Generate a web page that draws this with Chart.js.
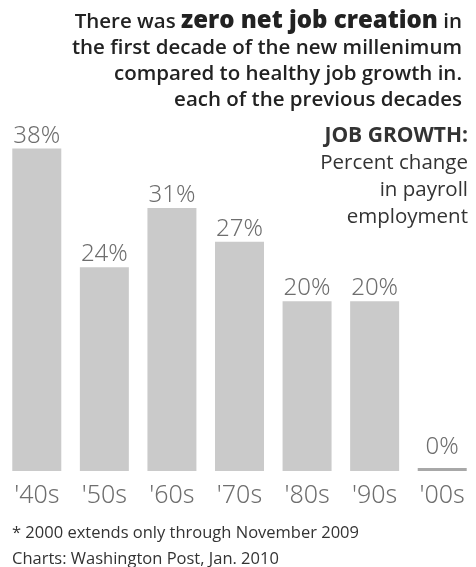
<!DOCTYPE html>
<html>
<head>
<meta charset="utf-8">
<script src="https://cdn.jsdelivr.net/npm/chart.js@4/dist/chart.umd.min.js"></script>
<style>
  html, body { margin: 0; padding: 0; background: #fff; }
  #wrap { position: relative; width: 476px; height: 567px; overflow: hidden; }
  #chart { position: absolute; left: 0; top: 0; }
  .title {
    position: absolute; right: 14px; top: 6px; text-align: right;
    font-family: "Open Sans", sans-serif; font-weight: 600; font-size: 20.5px;
    line-height: 26px; color: #222; letter-spacing: 0;
  }
  .title b { font-weight: 800; font-size: 24px; }
  .note {
    position: absolute; right: 8px; top: 121px; text-align: right;
    font-family: "Open Sans", sans-serif; font-size: 20.5px; line-height: 27px;
    color: #333;
  }
  .note b { font-weight: 700; font-size: 21px; }
  .foot {
    position: absolute; left: 12px; top: 519px;
    font-family: "Open Sans", sans-serif; font-size: 16.5px; line-height: 26px;
    color: #333;
  }
</style>
</head>
<body>
<div id="wrap">
  <canvas id="chart" width="476" height="567"></canvas>
  <div class="title">There was <b>zero net job creation</b> in<br>the first decade of the new millenimum<br>compared to healthy job growth in.<br>each of the previous decades</div>
  <div class="note"><b>JOB GROWTH:</b><br>Percent change<br>in payroll<br>employment</div>
  <div class="foot">* 2000 extends only through November 2009<br>Charts: Washington Post, Jan. 2010</div>
</div>
<script>
// 데이터
const decades = ["'40s", "'50s", "'60s", "'70s", "'80s", "'90s", "'00s"];
const jobGrowth = [38, 24, 31, 27, 20, 20, 0];

// 막대 위 퍼센트 라벨
const valueLabels = {
    id: 'valueLabels',
    afterDatasetsDraw(chart) {
        const ctx = chart.ctx;
        const meta = chart.getDatasetMeta(0);
        ctx.save();
        ctx.font = '300 24px "Noto Sans", sans-serif';
        ctx.fillStyle = '#6e6e6e';
        ctx.textAlign = 'center';
        ctx.textBaseline = 'alphabetic';
        meta.data.forEach((bar, i) => {
            const gap = jobGrowth[i] === 0 ? 14 : 6;
            ctx.fillText(jobGrowth[i] + '%', bar.x, bar.y - gap);
        });
        ctx.restore();
    }
};

new Chart(document.getElementById('chart').getContext('2d'), {
    type: 'bar',
    data: {
        labels: decades,
        datasets: [{
            data: jobGrowth,
            backgroundColor: jobGrowth.map(v => v === 0 ? '#a8a8a8' : '#cacaca'),
            borderWidth: 0,
            minBarLength: 3,
            barPercentage: 0.725,
            categoryPercentage: 1
        }]
    },
    options: {
        responsive: false,
        animation: false,
        layout: { padding: { left: 3, right: 0, top: 0, bottom: 54 } },
        plugins: { legend: { display: false }, tooltip: { enabled: false } },
        scales: {
            x: {
                grid: { display: false },
                border: { display: false },
                ticks: {
                    color: '#6e6e6e',
                    padding: 2,
                    font: { family: '"Noto Sans", sans-serif', size: 25, weight: '300' }
                }
            },
            y: {
                display: false,
                min: 0,
                max: 55.5
            }
        }
    },
    plugins: [valueLabels]
});
</script>
</body>
</html>
